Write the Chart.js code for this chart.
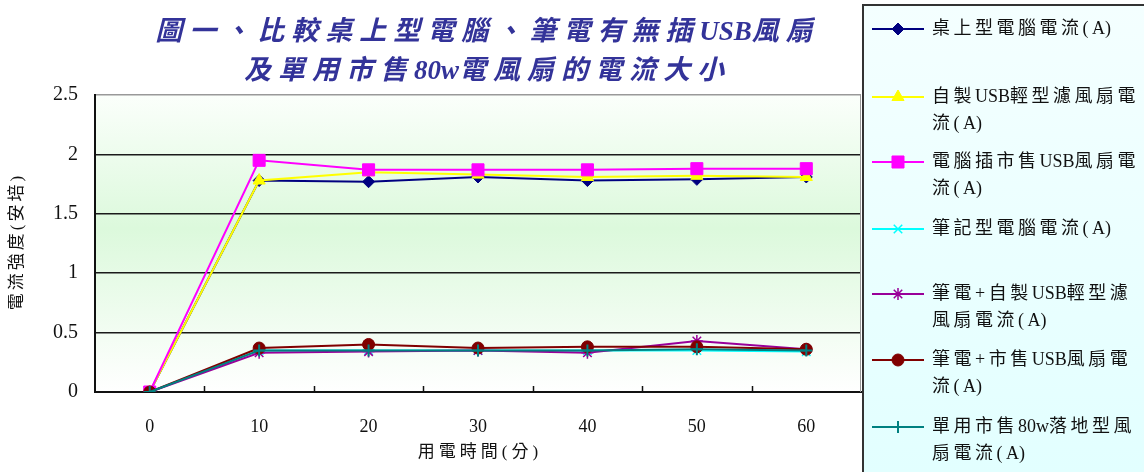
<!DOCTYPE html>
<html>
<head>
<meta charset="utf-8">
<script src="https://cdn.jsdelivr.net/npm/chart.js@4/dist/chart.umd.min.js"></script>
<style>
  html, body { margin: 0; padding: 0; background: #ffffff; }
  #wrap { width: 1144px; height: 472px; position: relative; }
</style>
</head>
<body>
<div id="wrap"><canvas id="myChart" width="1144" height="472"></canvas></div>
<script>
//Chart data
const minutes = ['0', '10', '20', '30', '40', '50', '60'];
const yTicks = [0, 0.5, 1, 1.5, 2, 2.5];
const desktopPC = [0, 1.78, 1.77, 1.81, 1.78, 1.79, 1.81];
const usbFilterFan = [0, 1.78, 1.85, 1.83, 1.81, 1.82, 1.81];
const pcShopUsbFan = [0, 1.95, 1.87, 1.87, 1.87, 1.88, 1.88];
const notebook = [0, 0.35, 0.35, 0.35, 0.35, 0.35, 0.34];
const nbUsbFilterFan = [0, 0.33, 0.34, 0.35, 0.33, 0.43, 0.36];
const nbShopUsbFan = [0, 0.37, 0.40, 0.37, 0.38, 0.38, 0.36];
const floorFan80w = [0, 0.35, 0.35, 0.35, 0.35, 0.36, 0.35];

const titleLines = ['圖一、比較桌上型電腦、筆電有無插USB風扇', '及單用市售80w電風扇的電流大小'];
const yTitle = '電流強度(安培)';
const xTitle = '用電時間(分)';
const seriesLabels = [
  ['桌上型電腦電流(A)'],
  ['自製USB輕型濾風扇電', '流(A)'],
  ['電腦插市售USB風扇電', '流(A)'],
  ['筆記型電腦電流(A)'],
  ['筆電+自製USB輕型濾', '風扇電流(A)'],
  ['筆電+市售USB風扇電', '流(A)'],
  ['單用市售80w落地型風', '扇電流(A)']
];

const MIXED = '"Liberation Serif", "Noto Sans CJK TC", "Noto Sans CJK SC", serif';
const SERIF = '"Liberation Serif", "DejaVu Serif", serif';

//Helper for making one line dataset
function makeSet(idx, data, color, style, radius, bw) {
  return {
    label: seriesLabels[idx].join(''),
    legendLines: seriesLabels[idx],
    data: data,
    borderColor: color,
    backgroundColor: color,
    borderWidth: 2,
    pointStyle: style,
    pointRadius: radius,
    pointHoverRadius: radius,
    pointBackgroundColor: color,
    pointBorderColor: color,
    pointBorderWidth: bw,
    tension: 0,
    fill: false,
    order: 7 - idx
  };
}

const datasets = [
  makeSet(0, desktopPC, '#000080', 'rectRot', 6, 1),
  makeSet(1, usbFilterFan, '#ffff00', 'triangle', 7, 1),
  makeSet(2, pcShopUsbFan, '#ff00ff', 'rect', 8.5, 1),
  makeSet(3, notebook, '#00ffff', 'crossRot', 6, 1.5),
  makeSet(4, nbUsbFilterFan, '#990099', 'star', 6, 1.5),
  makeSet(5, nbShopUsbFan, '#800000', 'circle', 6, 1),
  makeSet(6, floorFan80w, '#008080', 'cross', 6, 2)
];

//Draws text with extra gap after wide chars only (latin letters/digits stay tight)
function spacedWidth(ctx, text, gap) {
  let w = 0;
  for (const ch of text) {
    w += ctx.measureText(ch).width;
    if (!/[A-Za-z0-9.]/.test(ch)) w += gap;
  }
  return w - gap;
}
function drawSpaced(ctx, text, x, y, gap, align) {
  let cx = x;
  if (align === 'center') cx = x - spacedWidth(ctx, text, gap) / 2;
  ctx.textAlign = 'left';
  for (const ch of text) {
    ctx.fillText(ch, cx, y);
    cx += ctx.measureText(ch).width;
    if (!/[A-Za-z0-9.]/.test(ch)) cx += gap;
  }
}

//Plugin that paints the green gradient behind the plot
const plotBackground = {
  id: 'plotBackground',
  beforeDraw(chart) {
    const { ctx, chartArea: a } = chart;
    const g = ctx.createLinearGradient(0, a.top, 0, a.bottom);
    g.addColorStop(0, '#fbfffb');
    g.addColorStop(0.45, '#dcf9dc');
    g.addColorStop(1, '#ffffff');
    ctx.save();
    ctx.fillStyle = g;
    ctx.fillRect(a.left, a.top, a.right - a.left, a.bottom - a.top);
    ctx.restore();
  },
  afterDatasetsDraw(chart) {
    const { ctx, chartArea: a } = chart;
    const xs = chart.scales.x;
    ctx.save();
    //right border of the plot
    ctx.strokeStyle = '#999999';
    ctx.lineWidth = 1;
    ctx.beginPath();
    ctx.moveTo(a.right - 0.5, a.top);
    ctx.lineTo(a.right - 0.5, a.bottom);
    ctx.stroke();
    //small inner ticks between categories
    ctx.strokeStyle = '#111111';
    ctx.lineWidth = 1.5;
    const step = (a.right - a.left) / minutes.length;
    for (let i = 1; i < minutes.length; i++) {
      const x = Math.round(xs.left + i * step) + 0.5;
      ctx.beginPath();
      ctx.moveTo(x, a.bottom);
      ctx.lineTo(x, a.bottom - 6);
      ctx.stroke();
    }
    ctx.restore();
  }
};

//Plugin for the titles and the wrapped legend box
const textAndLegend = {
  id: 'textAndLegend',
  afterDraw(chart) {
    const ctx = chart.ctx;
    const a = chart.chartArea;
    ctx.save();
    ctx.textBaseline = 'middle';
    //main title
    ctx.fillStyle = '#333399';
    ctx.font = 'italic bold 27px ' + MIXED;
    drawSpaced(ctx, titleLines[0], 484, 33, 7, 'center');
    drawSpaced(ctx, titleLines[1], 484, 72, 7, 'center');

    //axis titles
    ctx.fillStyle = '#111111';
    ctx.font = '17px ' + MIXED;
    drawSpaced(ctx, xTitle, (a.left + a.right) / 2, 453, 4, 'center');
    ctx.save();
    ctx.translate(18, 243);
    ctx.rotate(-Math.PI / 2);
    drawSpaced(ctx, yTitle, 0, 0, 3, 'center');
    ctx.restore();

    //legend box
    const bx = 863, by = 5;
    const g = ctx.createLinearGradient(0, by, 0, 472);
    g.addColorStop(0, '#f4ffff');
    g.addColorStop(1, '#e2ffff');
    ctx.fillStyle = g;
    ctx.fillRect(bx, by, 1144 - bx, 472 - by);
    ctx.strokeStyle = '#333333';
    ctx.lineWidth = 2;
    ctx.strokeRect(bx, by, 1144 - bx + 4, 472 - by + 4);

    const rowY = [29, 97, 162, 229, 294, 360, 427];
    ctx.font = '18px ' + MIXED;
    chart.data.datasets.forEach((ds, i) => {
      const y = rowY[i];
      ctx.strokeStyle = ds.borderColor;
      ctx.lineWidth = 2;
      ctx.beginPath();
      ctx.moveTo(872, y);
      ctx.lineTo(924, y);
      ctx.stroke();
      ctx.fillStyle = ds.pointBackgroundColor;
      ctx.strokeStyle = ds.pointBorderColor;
      ctx.lineWidth = ds.pointBorderWidth;
      Chart.helpers.drawPoint(ctx, {
        pointStyle: ds.pointStyle,
        radius: ds.pointRadius,
        rotation: 0,
        borderWidth: ds.pointBorderWidth
      }, 898, y);
      ctx.fillStyle = '#111111';
      ds.legendLines.forEach((line, j) => {
        drawSpaced(ctx, line, 932, y + j * 27, 3.5, 'left');
      });
    });
    ctx.restore();
  }
};

const ctx = document.getElementById('myChart').getContext('2d');
new Chart(ctx, {
  type: 'line',
  data: { labels: minutes, datasets: datasets },
  options: {
    responsive: false,
    animation: false,
    layout: { padding: { left: 0, right: 283, top: 95, bottom: 0 } },
    plugins: {
      legend: { display: false },
      title: { display: false },
      tooltip: { enabled: false }
    },
    scales: {
      x: {
        type: 'category',
        offset: true,
        grid: { display: false, drawTicks: false },
        border: { display: true, color: '#111111', width: 2 },
        ticks: {
          color: '#111111',
          font: { family: SERIF, size: 18 },
          padding: 24,
          maxRotation: 0
        },
        afterFit(scale) { scale.height = 80; }
      },
      y: {
        min: 0,
        max: 2.5,
        afterBuildTicks(scale) {
          scale.ticks = yTicks.map(v => ({ value: v }));
        },
        grid: {
          drawTicks: false,
          lineWidth: 1.5,
          color: c => (c.tick && c.tick.value === 2.5 ? '#999999' : '#1a1a1a')
        },
        border: { display: true, color: '#111111', width: 2 },
        ticks: {
          color: '#111111',
          font: { family: SERIF, size: 20 },
          padding: 17,
          callback: v => String(v)
        },
        afterFit(scale) { scale.width = 95; }
      }
    }
  },
  plugins: [plotBackground, textAndLegend]
});
</script>
</body>
</html>
